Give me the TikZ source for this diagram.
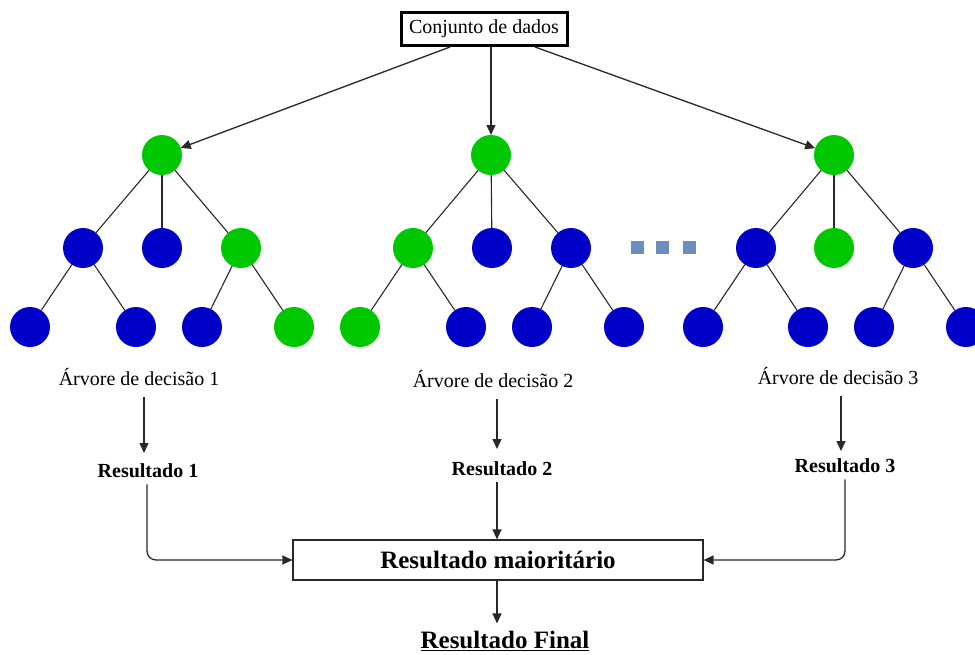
\documentclass[tikz,border=0pt]{standalone}
\usepackage{fontspec}
\setmainfont{Liberation Serif}
\usetikzlibrary{arrows.meta,calc}
\definecolor{gr}{RGB}{0,200,0}
\definecolor{bl}{RGB}{0,0,200}
\definecolor{dotc}{RGB}{108,142,191}
\definecolor{ln}{RGB}{40,40,40}
\begin{document}
\begin{tikzpicture}[x=1pt,y=-1pt,
  gnode/.style={circle, fill=gr, minimum size=40pt, inner sep=0pt, outer sep=0pt},
  bnode/.style={circle, fill=bl, minimum size=40pt, inner sep=0pt, outer sep=0pt},
  edge/.style={draw=ln, line width=1.1pt},
  arr/.style={draw=ln, line width=1.3pt, -{Triangle[length=10pt,width=9pt]}},
  sq/.style={rectangle, fill=dotc, minimum size=13pt, inner sep=0pt},
  lbl/.style={font=\fontsize{20}{24}\selectfont, inner sep=0pt, anchor=base},
  res/.style={font=\fontsize{20}{24}\selectfont\bfseries, inner sep=0pt, anchor=base}]
\useasboundingbox (0,0) rectangle (975,654);
% top box
\node[draw=black, line width=3pt, minimum width=166pt, minimum height=33pt, inner sep=0pt,
      font=\fontsize{20}{24}\selectfont] (data) at (484,29) {Conjunto de dados};
% tree 1
\node[gnode] (r1) at (162,155) {};
\node[bnode] (a1) at (83,248) {};
\node[bnode] (b1) at (162,248) {};
\node[gnode] (c1) at (241,248) {};
\node[bnode] (a1l) at (30,327) {};
\node[bnode] (a1r) at (136,327) {};
\node[bnode] (c1l) at (202,327) {};
\node[gnode] (c1r) at (294,327) {};
% tree 2
\node[gnode] (r2) at (491,155) {};
\node[gnode] (a2) at (413,248) {};
\node[bnode] (b2) at (492,248) {};
\node[bnode] (c2) at (571,248) {};
\node[gnode] (a2l) at (360,327) {};
\node[bnode] (a2r) at (466,327) {};
\node[bnode] (c2l) at (532,327) {};
\node[bnode] (c2r) at (624,327) {};
% tree 3
\node[gnode] (r3) at (834,155) {};
\node[bnode] (a3) at (756,248) {};
\node[gnode] (b3) at (834,248) {};
\node[bnode] (c3) at (913,248) {};
\node[bnode] (a3l) at (703,327) {};
\node[bnode] (a3r) at (808,327) {};
\node[bnode] (c3l) at (874,327) {};
\node[bnode] (c3r) at (966,327) {};
% dots
\node[sq] (d1) at (637,247) {};
\node[sq] (d2) at (662,247) {};
\node[sq] (d3) at (689,247) {};
% tree edges
\foreach \t in {1,2,3}{
  \draw[edge] (r\t) -- (a\t);
  \draw[edge] (r\t) -- (b\t);
  \draw[edge] (r\t) -- (c\t);
  \draw[edge] (a\t) -- (a\t l);
  \draw[edge] (a\t) -- (a\t r);
  \draw[edge] (c\t) -- (c\t l);
  \draw[edge] (c\t) -- (c\t r);
}
% arrows from data
\draw[arr] ($(data.south)+(-34,0)$) -- (r1);
\draw[arr] (data.south -| r2) -- (r2);
\draw[arr] ($(data.south)+(51,0)$) -- (r3);
% labels
\node[lbl] (lab1) at (139,385) {Árvore de decisão 1};
\node[lbl] (lab2) at (493,387) {Árvore de decisão 2};
\node[lbl] (lab3) at (838,384) {Árvore de decisão 3};
\node[res] (res1) at (148,477) {Resultado 1};
\node[res] (res2) at (502,475) {Resultado 2};
\node[res] (res3) at (845,472) {Resultado 3};
\coordinate (e1) at (144,453);
\coordinate (e2) at (497,449);
\coordinate (e3) at (841,451);
\draw[arr] ($(lab1.south -| e1)+(0,12)$) -- (e1);
\draw[arr] ($(lab2.south -| e2)+(0,12)$) -- (e2);
\draw[arr] ($(lab3.south -| e3)+(0,12)$) -- (e3);
% majority box
\node[draw=ln, line width=1.2pt, minimum width=410pt, minimum height=40pt, inner sep=0pt,
      font=\fontsize{25}{30}\selectfont\bfseries] (maj) at (498,560) {Resultado maioritário};
\draw[arr, rounded corners=9pt] ($(res1.south)+(-1,7)$) |- (maj.west);
\draw[arr] ($(res2.south -| e2)+(0,7)$) -- (maj.north -| e2);
\draw[arr, rounded corners=9pt] ($(res3.south)+(0,7)$) |- (maj.east);
% final
\node[font=\fontsize{25}{30}\selectfont\bfseries, inner sep=0pt, anchor=base] (fin) at (505,648) {\underline{Resultado Final}};
\draw[arr] (maj.south -| e2) -- ($(fin.north -| e2)+(0,-7)$);
\end{tikzpicture}
\end{document}
